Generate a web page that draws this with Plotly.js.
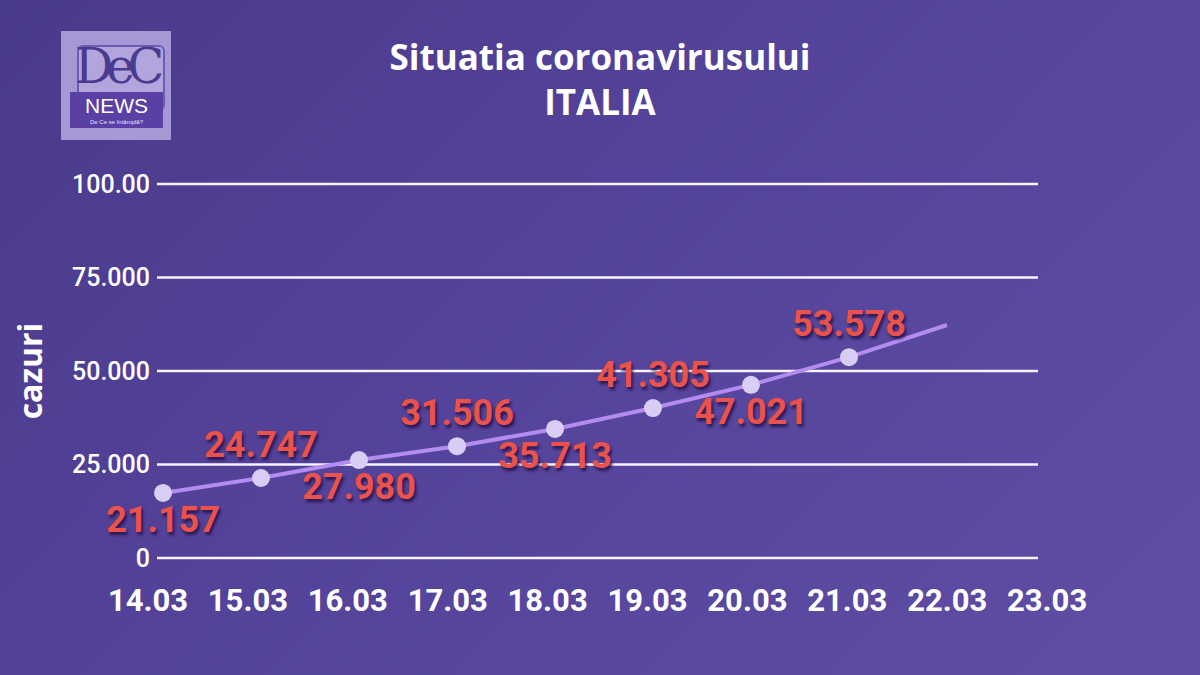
<!DOCTYPE html>
<html>
<head>
<meta charset="utf-8">
<script src="https://cdn.plot.ly/plotly-3.0.1.min.js"></script>
<style>
  html, body { margin:0; padding:0; width:1200px; height:675px; overflow:hidden;
    background: linear-gradient(135deg, #4a3a8b 0%, #54439a 45%, #5f4ea4 100%); }
  #chart { position:absolute; left:0; top:0; width:1200px; height:675px; }
  #logo { position:absolute; left:61px; top:31px; width:110px; height:109px; background:#a698d4; }
  #logo .frame { position:absolute; left:16px; top:14px; width:84px; height:62px; border:2px solid #6d5cb3; border-radius:6px; background:#b1a5db; }
  #logo .dec { position:absolute; left:0; top:10px; width:110px; text-align:center; font-family:"DejaVu Serif","Liberation Serif",serif; font-size:48px; line-height:50px; color:#4b3b90; letter-spacing:-7px; }
  #logo .band { position:absolute; left:9px; top:61px; width:93px; height:36px; background:#5a3fa5; }
  #logo .news { position:absolute; left:0; top:2px; width:93px; text-align:center; font-family:"Liberation Sans",Arial,sans-serif; font-size:21px; line-height:24px; color:#ffffff; }
  #logo .tag { position:absolute; left:0; top:26px; width:93px; text-align:center; font-family:"Liberation Sans",Arial,sans-serif; font-size:6px; line-height:8px; color:#e6e0ff; }
</style>
</head>
<body>
<div id="chart"></div>
<div id="logo">
  <div class="frame"></div>
  <div class="dec">DeC</div>
  <div class="band"><div class="news">NEWS</div><div class="tag">De Ce se întâmplă?</div></div>
</div>
<script>
// ---- data ----
const dates = ["14.03","15.03","16.03","17.03","18.03","19.03","20.03","21.03","22.03","23.03"];
// line positions as drawn in the picture (the line continues to 22.03 without a marker)
const lineValues = [17400, 21400, 26200, 29900, 34500, 40100, 46300, 53700, 62300];
// case counts written as labels
const caseLabels = ["21.157","24.747","27.980","31.506","35.713","41.305","47.021","53.578"];
const yTickValues = [0, 25000, 50000, 75000, 100000];
const yTickLabels = ["0","25.000","50.000","75.000","100.00"];

const idxLine = lineValues.map((v,i)=>i);
const idxMarks = caseLabels.map((v,i)=>i);
const markValues = lineValues.slice(0, caseLabels.length);
const idxDates = dates.map((d,i)=>i);

const W = 1200, H = 675, L = 130, R = 130;
const plotW = W - L - R;
const px2paper = x => (x - L) / plotW;

const traces = [
  { x: idxLine, y: lineValues, type:'scatter', mode:'lines',
    line:{color:'#b48cf0', width:4}, hoverinfo:'skip', showlegend:false, xaxis:'x', yaxis:'y' },
  { x: idxMarks, y: markValues, type:'scatter', mode:'markers+text',
    marker:{color:'#d9cdf6', size:18},
    text: caseLabels,
    textposition: ['bottom center','top center','bottom center','top center','bottom center','top center','bottom center','top center'],
    textfont:{family:'Roboto, sans-serif', size:36, color:'#ea524b', weight:700, shadow:'2px 3px 3px rgba(35,15,70,0.85)'},
    cliponaxis:false, showlegend:false, hoverinfo:'skip', xaxis:'x', yaxis:'y' }
];

const shapes = yTickValues.map(v => ({
  type:'line', xref:'paper', yref:'y', x0:px2paper(157), x1:px2paper(1038), y0:v, y1:v,
  line:{color:'#f7f4ff', width:2.5}, layer:'below'
}));

const layout = {
  width: W, height: H,
  margin:{l:L, r:R, t:169, b:102},
  paper_bgcolor:'rgba(0,0,0,0)', plot_bgcolor:'rgba(0,0,0,0)',
  title:{text:'<b>Situatia coronavirusului</b><br><b>ITALIA</b>', x:0.5, xanchor:'center', yref:'container', y:0.897, yanchor:'top',
    font:{family:'Open Sans, sans-serif', size:35, color:'#ffffff'}},
  xaxis:{range:[-33/98, 907/98], showgrid:false, zeroline:false, showticklabels:false, showline:false, fixedrange:true},
  xaxis2:{overlaying:'x', anchor:'y', side:'bottom', range:[-18/99.9, 922/99.9],
    tickvals: idxDates, ticktext: dates, showgrid:false, zeroline:false, showline:false,
    ticks:'', ticklabelstandoff:6,
    tickfont:{family:'Roboto, sans-serif', size:31, color:'#ffffff', weight:700}},
  yaxis:{range:[-4000, 104000], anchor:'free', position:px2paper(155), showgrid:false, zeroline:false, showline:false,
    tickvals: yTickValues, ticktext: yTickLabels, ticks:'', ticklabelstandoff:5,
    tickfont:{family:'Roboto, sans-serif', size:25, color:'#ffffff', weight:500},
    title:{text:'<b>cazuri</b>', standoff:18, font:{family:'Open Sans, sans-serif', size:32, color:'#ffffff'}}},
  shapes: shapes,
  showlegend:false
};

// invisible helper so the date axis is registered
traces.push({x: idxDates, y: dates.map(()=>null), type:'scatter', mode:'markers', xaxis:'x2', yaxis:'y', hoverinfo:'skip', showlegend:false});

Plotly.newPlot('chart', traces, layout, {displayModeBar:false, staticPlot:true});
</script>
</body>
</html>
